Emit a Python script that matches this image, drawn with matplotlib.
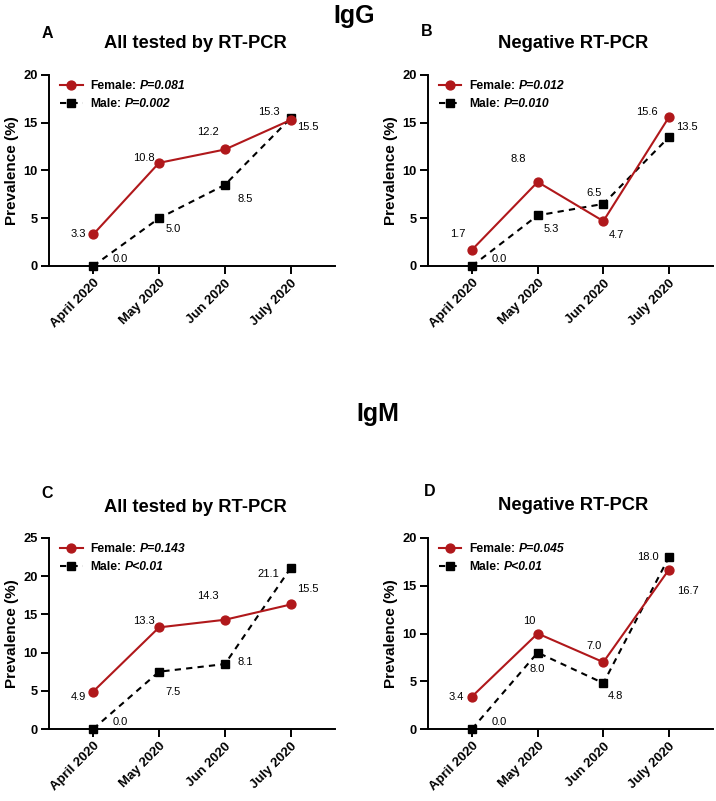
import matplotlib
matplotlib.use("Agg")
import matplotlib.pyplot as plt

plt.rcParams['font.family'] = ['Liberation Sans', 'DejaVu Sans']

months = ["April 2020", "May 2020", "Jun 2020", "July 2020"]
panel_letters = ["A", "B", "C", "D"]
panel_titles = ["All tested by RT-PCR", "Negative RT-PCR",
                "All tested by RT-PCR", "Negative RT-PCR"]
ymax = [20, 20, 25, 20]

# plotted positions
female_vals = [[3.3, 10.8, 12.2, 15.3], [1.7, 8.8, 4.7, 15.6],
               [4.9, 13.3, 14.3, 16.3], [3.4, 10.0, 7.0, 16.7]]
male_vals = [[0.0, 5.0, 8.5, 15.5], [0.0, 5.3, 6.5, 13.5],
             [0.0, 7.5, 8.5, 21.1], [0.0, 8.0, 4.8, 18.0]]
# printed labels
female_labels = [["3.3", "10.8", "12.2", "15.3"], ["1.7", "8.8", "4.7", "15.6"],
                 ["4.9", "13.3", "14.3", "15.5"], ["3.4", "10", "7.0", "16.7"]]
male_labels = [["0.0", "5.0", "8.5", "15.5"], ["0.0", "5.3", "6.5", "13.5"],
               ["0.0", "7.5", "8.1", "21.1"], ["0.0", "8.0", "4.8", "18.0"]]
female_p = ["P=0.081", "P=0.012", "P=0.143", "P=0.045"]
male_p = ["P=0.002", "P=0.010", "P<0.01", "P<0.01"]

# label offsets in pixels (dx right, dy up)
female_off = [[(-15, 0), (-15, 5), (-17, 17), (-22, 8)],
              [(-14, 16), (-19, 23), (13, -14), (-22, 5)],
              [(-15, -5), (-15, 6), (-17, 24), (17, 15)],
              [(-16, 0), (-8, 12), (-9, 16), (19, -21)]]
male_off = [[(27, 7), (14, -11), (20, -14), (17, -9)],
            [(27, 7), (14, -14), (-9, 11), (18, 10)],
            [(27, 7), (14, -20), (20, 2), (-23, -6)],
            [(27, 7), (0, -16), (12, -13), (-21, 0)]]

RED = "#B0181B"
W, H = 716, 801
PX = 0.72  # points per pixel at dpi 100

fig = plt.figure(figsize=(W / 100, H / 100), dpi=100)

# axes boxes in pixels: left, right, top, bottom
boxes = [(49, 335, 75, 266), (428, 713, 75, 266),
         (49, 335, 538, 729), (428, 713, 538, 729)]
letter_pos = [(47, 34), (427, 31), (47, 494), (430, 491)]
title_pos = [(195, 44), (573, 44), (195, 507), (573, 505)]


def fx(x):
    return x / W


def fy(y):
    return 1 - y / H


fig.text(fx(354), fy(16), "IgG", fontsize=18, fontweight='bold', ha='center', va='center')
fig.text(fx(378), fy(414), "IgM", fontsize=18, fontweight='bold', ha='center', va='center')

x = range(len(months))
for i in range(4):
    l, r, t, b = boxes[i]
    ax = fig.add_axes([fx(l), fy(b), (r - l) / W, (b - t) / H])
    ml, = ax.plot(x, male_vals[i], color='black', lw=1.5, ls=(0, (3, 2.5)),
                  marker='s', ms=6.2, clip_on=False, zorder=3)
    fl, = ax.plot(x, female_vals[i], color=RED, lw=1.5,
                  marker='o', ms=6.4, clip_on=False, zorder=4)
    for j in x:
        dx, dy = female_off[i][j]
        ax.annotate(female_labels[i][j], (j, female_vals[i][j]), xytext=(dx * PX, dy * PX),
                    textcoords='offset points', ha='center', va='center', fontsize=8)
        dx, dy = male_off[i][j]
        ax.annotate(male_labels[i][j], (j, male_vals[i][j]), xytext=(dx * PX, dy * PX),
                    textcoords='offset points', ha='center', va='center', fontsize=8)

    ax.set_xlim(-0.67, 3.67)
    ax.set_ylim(0, ymax[i])
    ax.set_yticks(range(0, ymax[i] + 1, 5))
    ax.set_xticks(list(x))
    ax.set_xticklabels(months, rotation=45, ha='right', rotation_mode='anchor',
                       fontweight='bold', fontsize=9.5)
    for lab in ax.get_yticklabels():
        lab.set_fontweight('bold')
        lab.set_fontsize(9.3)
    ax.spines['top'].set_visible(False)
    ax.spines['right'].set_visible(False)
    ax.spines['left'].set_linewidth(1.4)
    ax.spines['bottom'].set_linewidth(1.4)
    ax.tick_params(axis='y', length=6, width=1.4, pad=2)
    ax.tick_params(axis='x', length=5.5, width=1.4, pad=2.5)
    ax.set_ylabel("Prevalence (%)", fontsize=11, fontweight='bold', labelpad=3)

    leg = ax.legend([fl, ml], ["Female:", "Male:"], loc='upper left',
                    bbox_to_anchor=(0.02, 1.0), frameon=False, handlelength=1.9,
                    handletextpad=0.65, labelspacing=0.55, borderaxespad=0.0,
                    prop={'weight': 'bold', 'size': 8.7})
    # italic P-values appended after the legend labels (drawn after the legend)
    for txt, p in zip(leg.get_texts(), [female_p[i], male_p[i]]):
        ax.annotate(p, xy=(1, 0), xycoords=txt, xytext=(2.8, 0), textcoords='offset points',
                    ha='left', va='bottom', fontsize=8.7, fontweight='bold',
                    fontstyle='italic', zorder=10)

    lx, ly = letter_pos[i]
    fig.text(fx(lx), fy(ly), panel_letters[i], fontsize=11.5, fontweight='bold',
             ha='center', va='center')
    tx, ty = title_pos[i]
    fig.text(fx(tx), fy(ty), panel_titles[i], fontsize=13.2, fontweight='bold',
             ha='center', va='center')

fig.savefig("out.png", dpi=100)
